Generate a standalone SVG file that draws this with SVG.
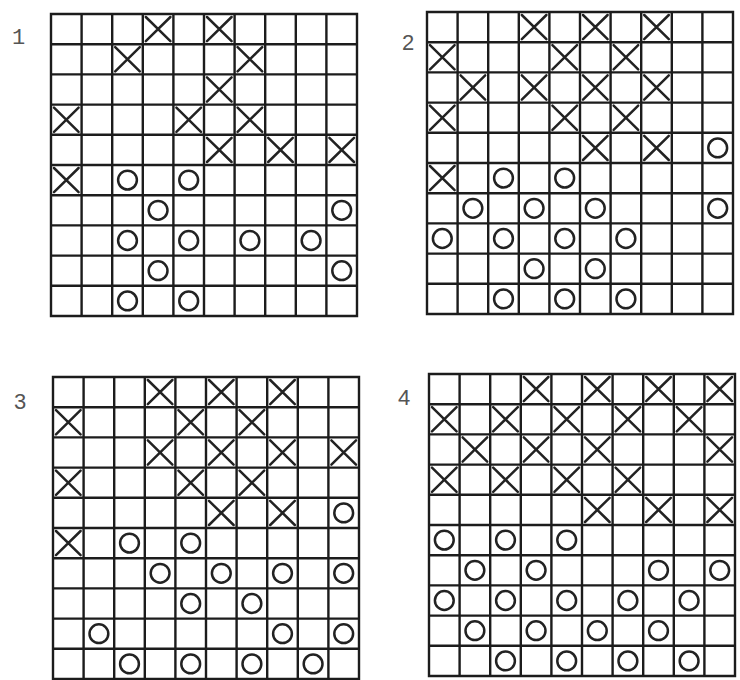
<svg xmlns="http://www.w3.org/2000/svg" xmlns:xlink="http://www.w3.org/1999/xlink" width="740" height="680" viewBox="0 0 740 680">
<style>
.grid{fill:none;stroke:#1c1c1c;stroke-width:2.4;stroke-linecap:square}
.mk{fill:none;stroke:#222;stroke-width:2.5;stroke-linecap:round}
.lbl{font-family:"Liberation Sans",Arial,sans-serif;font-size:22px;fill:#555}
.mono{font-family:"Liberation Mono","Courier New",monospace}
</style>
<defs>
<path id="gridlines" class="grid" d="M0 0V302M30.6 0V302M61.2 0V302M91.8 0V302M122.4 0V302M153 0V302M183.6 0V302M214.2 0V302M244.8 0V302M275.4 0V302M306 0V302M0 0H306M0 30.2H306M0 60.4H306M0 90.6H306M0 120.8H306M0 151H306M0 181.2H306M0 211.4H306M0 241.6H306M0 271.8H306M0 302H306"/>
<path id="mx" class="mk" d="M3 3L27.6 27.2M27.6 3L3 27.2"/>
<circle id="mo" class="mk" cx="15.3" cy="15.1" r="9.4"/>
</defs>
<rect width="740" height="680" fill="#fff"/>

<g id="board1" transform="translate(51,14)">
<use href="#gridlines"/>
<use href="#mx" x="91.8" y="0"/><use href="#mx" x="153" y="0"/>
<use href="#mx" x="61.2" y="30.2"/><use href="#mx" x="183.6" y="30.2"/>
<use href="#mx" x="153" y="60.4"/>
<use href="#mx" x="0" y="90.6"/><use href="#mx" x="122.4" y="90.6"/><use href="#mx" x="183.6" y="90.6"/>
<use href="#mx" x="153" y="120.8"/><use href="#mx" x="214.2" y="120.8"/><use href="#mx" x="275.4" y="120.8"/>
<use href="#mx" x="0" y="151"/>
<use href="#mo" x="61.2" y="151"/><use href="#mo" x="122.4" y="151"/>
<use href="#mo" x="91.8" y="181.2"/><use href="#mo" x="275.4" y="181.2"/>
<use href="#mo" x="61.2" y="211.4"/><use href="#mo" x="122.4" y="211.4"/><use href="#mo" x="183.6" y="211.4"/><use href="#mo" x="244.8" y="211.4"/>
<use href="#mo" x="91.8" y="241.6"/><use href="#mo" x="275.4" y="241.6"/>
<use href="#mo" x="61.2" y="271.8"/><use href="#mo" x="122.4" y="271.8"/>
</g>

<g id="board2" transform="translate(427,12)">
<use href="#gridlines"/>
<use href="#mx" x="91.8" y="0"/><use href="#mx" x="153" y="0"/><use href="#mx" x="214.2" y="0"/>
<use href="#mx" x="0" y="30.2"/><use href="#mx" x="122.4" y="30.2"/><use href="#mx" x="183.6" y="30.2"/>
<use href="#mx" x="30.6" y="60.4"/><use href="#mx" x="91.8" y="60.4"/><use href="#mx" x="153" y="60.4"/><use href="#mx" x="214.2" y="60.4"/>
<use href="#mx" x="0" y="90.6"/><use href="#mx" x="122.4" y="90.6"/><use href="#mx" x="183.6" y="90.6"/>
<use href="#mx" x="153" y="120.8"/><use href="#mx" x="214.2" y="120.8"/>
<use href="#mx" x="0" y="151"/>
<use href="#mo" x="275.4" y="120.8"/>
<use href="#mo" x="61.2" y="151"/><use href="#mo" x="122.4" y="151"/>
<use href="#mo" x="30.6" y="181.2"/><use href="#mo" x="91.8" y="181.2"/><use href="#mo" x="153" y="181.2"/><use href="#mo" x="275.4" y="181.2"/>
<use href="#mo" x="0" y="211.4"/><use href="#mo" x="61.2" y="211.4"/><use href="#mo" x="122.4" y="211.4"/><use href="#mo" x="183.6" y="211.4"/>
<use href="#mo" x="91.8" y="241.6"/><use href="#mo" x="153" y="241.6"/>
<use href="#mo" x="61.2" y="271.8"/><use href="#mo" x="122.4" y="271.8"/><use href="#mo" x="183.6" y="271.8"/>
</g>

<g id="board3" transform="translate(53,377)">
<use href="#gridlines"/>
<use href="#mx" x="91.8" y="0"/><use href="#mx" x="153" y="0"/><use href="#mx" x="214.2" y="0"/>
<use href="#mx" x="0" y="30.2"/><use href="#mx" x="122.4" y="30.2"/><use href="#mx" x="183.6" y="30.2"/>
<use href="#mx" x="91.8" y="60.4"/><use href="#mx" x="153" y="60.4"/><use href="#mx" x="214.2" y="60.4"/><use href="#mx" x="275.4" y="60.4"/>
<use href="#mx" x="0" y="90.6"/><use href="#mx" x="122.4" y="90.6"/><use href="#mx" x="183.6" y="90.6"/>
<use href="#mx" x="153" y="120.8"/><use href="#mx" x="214.2" y="120.8"/>
<use href="#mx" x="0" y="151"/>
<use href="#mo" x="275.4" y="120.8"/>
<use href="#mo" x="61.2" y="151"/><use href="#mo" x="122.4" y="151"/>
<use href="#mo" x="91.8" y="181.2"/><use href="#mo" x="153" y="181.2"/><use href="#mo" x="214.2" y="181.2"/><use href="#mo" x="275.4" y="181.2"/>
<use href="#mo" x="122.4" y="211.4"/><use href="#mo" x="183.6" y="211.4"/>
<use href="#mo" x="30.6" y="241.6"/><use href="#mo" x="214.2" y="241.6"/><use href="#mo" x="275.4" y="241.6"/>
<use href="#mo" x="61.2" y="271.8"/><use href="#mo" x="122.4" y="271.8"/><use href="#mo" x="183.6" y="271.8"/><use href="#mo" x="244.8" y="271.8"/>
</g>

<g id="board4" transform="translate(429,374)">
<use href="#gridlines"/>
<use href="#mx" x="91.8" y="0"/><use href="#mx" x="153" y="0"/><use href="#mx" x="214.2" y="0"/><use href="#mx" x="275.4" y="0"/>
<use href="#mx" x="0" y="30.2"/><use href="#mx" x="61.2" y="30.2"/><use href="#mx" x="122.4" y="30.2"/><use href="#mx" x="183.6" y="30.2"/><use href="#mx" x="244.8" y="30.2"/>
<use href="#mx" x="30.6" y="60.4"/><use href="#mx" x="91.8" y="60.4"/><use href="#mx" x="153" y="60.4"/><use href="#mx" x="275.4" y="60.4"/>
<use href="#mx" x="0" y="90.6"/><use href="#mx" x="61.2" y="90.6"/><use href="#mx" x="122.4" y="90.6"/><use href="#mx" x="183.6" y="90.6"/>
<use href="#mx" x="153" y="120.8"/><use href="#mx" x="214.2" y="120.8"/><use href="#mx" x="275.4" y="120.8"/>
<use href="#mo" x="0" y="151"/><use href="#mo" x="61.2" y="151"/><use href="#mo" x="122.4" y="151"/>
<use href="#mo" x="30.6" y="181.2"/><use href="#mo" x="91.8" y="181.2"/><use href="#mo" x="214.2" y="181.2"/><use href="#mo" x="275.4" y="181.2"/>
<use href="#mo" x="0" y="211.4"/><use href="#mo" x="61.2" y="211.4"/><use href="#mo" x="122.4" y="211.4"/><use href="#mo" x="183.6" y="211.4"/><use href="#mo" x="244.8" y="211.4"/>
<use href="#mo" x="30.6" y="241.6"/><use href="#mo" x="91.8" y="241.6"/><use href="#mo" x="153" y="241.6"/><use href="#mo" x="214.2" y="241.6"/>
<use href="#mo" x="61.2" y="271.8"/><use href="#mo" x="122.4" y="271.8"/><use href="#mo" x="183.6" y="271.8"/><use href="#mo" x="244.8" y="271.8"/>
</g>

<g id="labels">
<text class="lbl mono" x="12" y="44">1</text>
<text class="lbl" x="402" y="50">2</text>
<text class="lbl" x="14" y="409">3</text>
<text class="lbl" x="398" y="405">4</text>
</g>
</svg>
